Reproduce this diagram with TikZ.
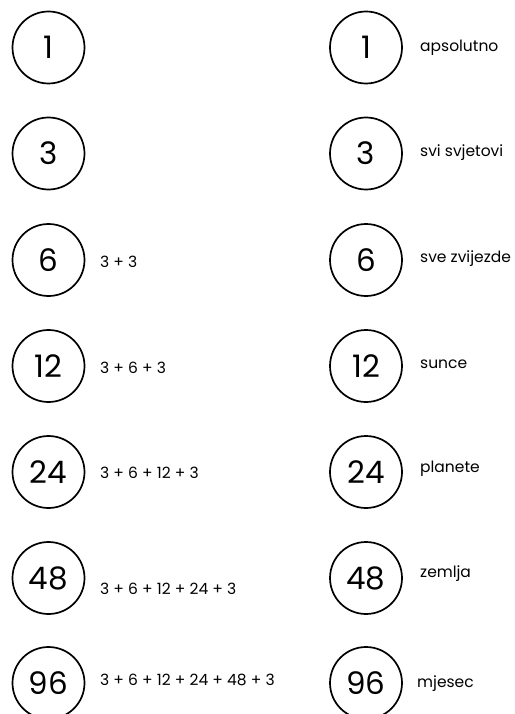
\documentclass[tikz,border=0pt]{standalone}
\usepackage{fontspec}
\setmainfont{Poppins}
\begin{document}
\begin{tikzpicture}[x=1pt,y=-1pt,
  numc/.style={draw=black, line width=1.7pt, circle, minimum size=72pt, inner sep=0pt, font=\fontsize{31}{31}\selectfont},
  sumt/.style={anchor=west, inner sep=0pt, font=\fontsize{15.5}{15.5}\selectfont},
  namet/.style={anchor=west, inner sep=0pt, font=\fontsize{15.5}{15.5}\selectfont}]
\useasboundingbox (0,0) rectangle (514,714);
\clip (0,0) rectangle (514,714);
% left column
\node[numc] (L1) at (48.5,47.5) {1};
\node[numc] (L2) at (48.5,153.5) {3};
\node[numc] (L3) at (48.5,260) {6};
\node[numc] (L4) at (48.5,366) {12};
\node[numc] (L5) at (48.5,472) {24};
\node[numc] (L6) at (48.5,578) {48};
\node[numc] (L7) at (48.5,683) {96};
\node[sumt] (S3) at (100,262) {3 + 3};
\node[sumt] (S4) at (100,368) {3 + 6 + 3};
\node[sumt] (S5) at (100,473) {3 + 6 + 12 + 3};
\node[sumt] (S6) at (100,589) {3 + 6 + 12 + 24 + 3};
\node[sumt] (S7) at (100,680) {3 + 6 + 12 + 24 + 48 + 3};
% right column
\node[numc] (R1) at (366,47.5) {1};
\node[numc] (R2) at (366,153.5) {3};
\node[numc] (R3) at (366,260) {6};
\node[numc] (R4) at (366,366) {12};
\node[numc] (R5) at (366,472) {24};
\node[numc] (R6) at (366,578) {48};
\node[numc] (R7) at (366,683) {96};
\node[namet] (N1) at (420,48) {apsolutno};
\node[namet] (N2) at (420,153) {svi svjetovi};
\node[namet] (N3) at (420,259) {sve zvijezde};
\node[namet] (N4) at (420,364) {sunce};
\node[namet] (N5) at (420,469) {planete};
\node[namet] (N6) at (420,574) {zemlja};
\node[namet] (N7) at (417,684) {mjesec};
\end{tikzpicture}
\end{document}
